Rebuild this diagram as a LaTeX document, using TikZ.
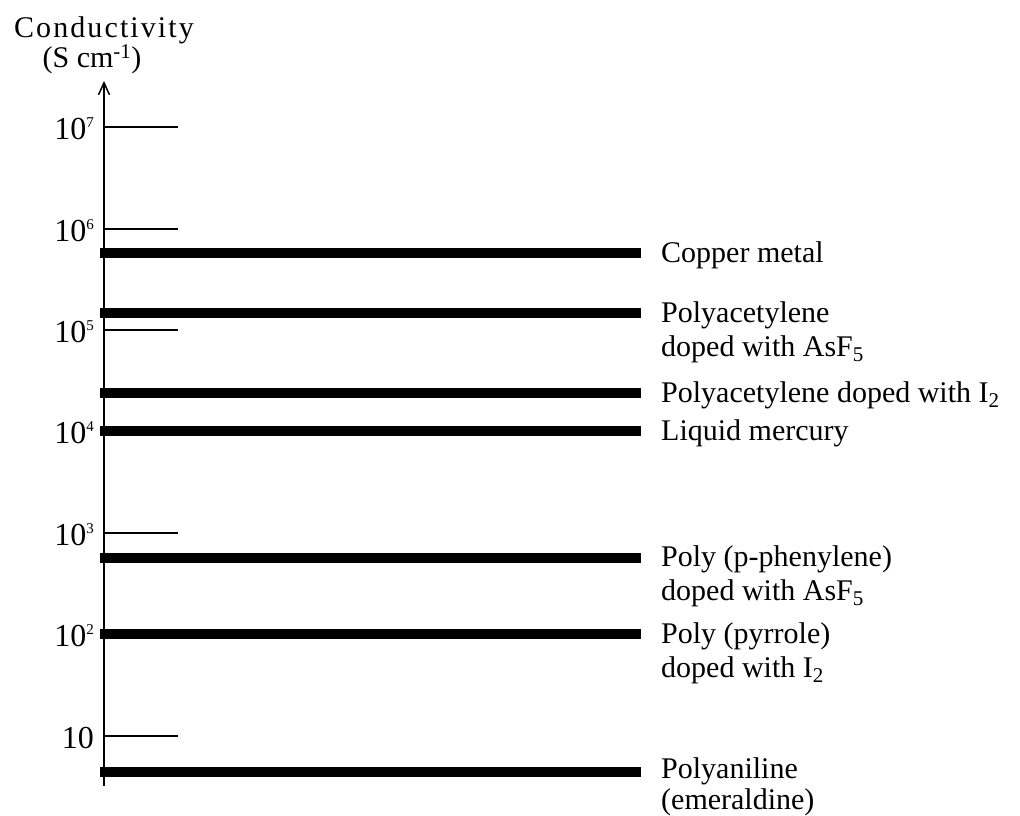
\documentclass[tikz,border=0pt]{standalone}
\usepackage{fontspec}
\setmainfont{Liberation Serif}
\usetikzlibrary{positioning,arrows.meta}

\newcommand{\pw}[1]{\raisebox{12pt}{\fontsize{15}{15}\selectfont #1}}

\begin{document}
\begin{tikzpicture}[x=1pt,y=-1pt,font=\fontsize{30}{34}\selectfont,
    tickline/.style={line width=1.3pt},
    bar/.style={line width=10pt},
    lbl/.style={inner sep=0pt,align=left}]
    \useasboundingbox (0,0) rectangle (1020,816);
    % axis and its title
    \node[font=\fontsize{30}{34}\selectfont\addfontfeature{LetterSpace=7}] (title) at (104,30) {Conductivity};
    \node[below=-6pt of title, xshift=-12pt] (unit) {(S cm\textsuperscript{-1})};
    \coordinate (bot) at (104,786);
    \coordinate (top) at (104,81);
    \draw[line width=1.5pt,-{Straight Barb[length=12pt,width=11pt]}] (bot) -- (top);

    % decades
    \foreach \y/\e [count=\i] in {127/7,229/6,330/5,431/4,533/3,634/2,736/} {
        \node[lbl,anchor=base east,font=\fontsize{32}{34}\selectfont] at (94,\y+12) (dec\i) {10\pw{\e}};
        \draw[tickline] (104,\y) -- (178,\y);
    }

    % materials
    \foreach \y/\up/\txt [count=\i] in {253/12/{Copper metal},
        313/12/{Polyacetylene\\doped with AsF\textsubscript{5}},
        393/12/{Polyacetylene doped with I\textsubscript{2}},
        431/12/{Liquid mercury},
        558/13/{Poly (p-phenylene)\\doped with AsF\textsubscript{5}},
        634/12/{Poly (pyrrole)\\doped with I\textsubscript{2}},
        772/15/{Polyaniline\\[-3pt](emeraldine)}} {
        \coordinate (a\i) at (100,\y);
        \coordinate (b\i) at (641,\y);
        \draw[bar] (a\i) -- (b\i);
        \node[lbl,below right=-\up pt and 20pt of b\i] (mat\i) {\txt};
    }
\end{tikzpicture}
\end{document}
